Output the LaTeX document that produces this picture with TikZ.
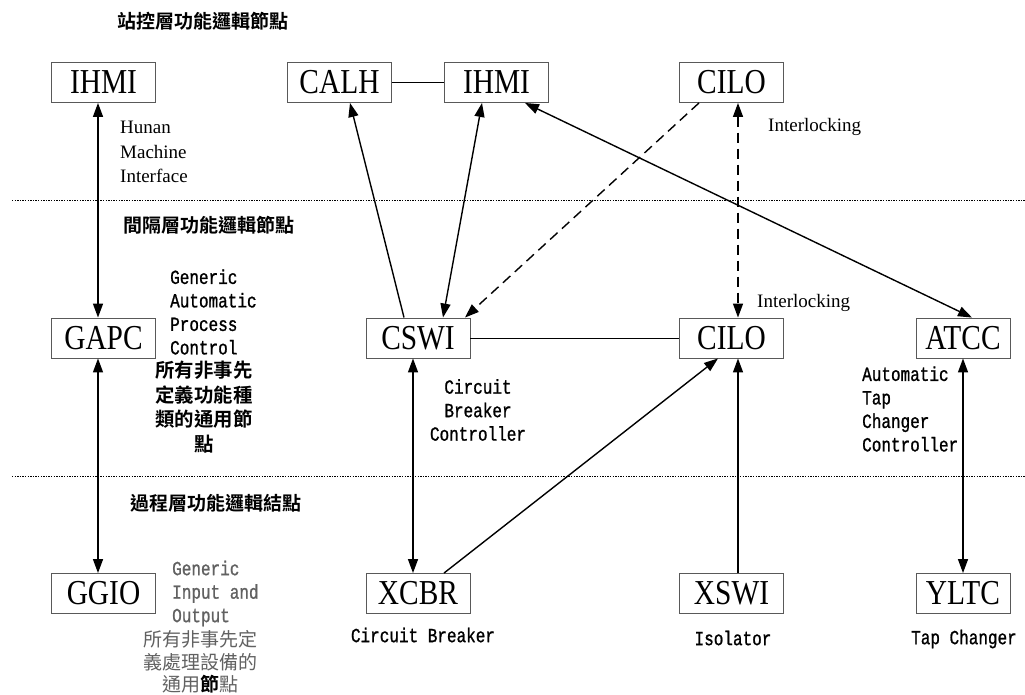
\documentclass[tikz,border=0pt]{standalone}
\usepackage{fontspec}
\usetikzlibrary{arrows.meta}
\setmainfont{Liberation Serif}
\newfontfamily\boxfont[FakeStretch=0.84]{Liberation Serif}
\newfontfamily\monofont[FakeStretch=0.8,FakeBold=1]{Liberation Mono}
\newfontfamily\cjkfont{Noto Sans CJK TC}
\newfontfamily\cjkboldfont{Noto Sans CJK TC Bold}
\definecolor{boxline}{gray}{0.35}
\definecolor{softtext}{gray}{0.38}
\begin{document}
\begin{tikzpicture}[x=1pt,y=-1pt,
  lnode/.style={draw=boxline, line width=0.9pt, fill=white, minimum width=104pt,
    minimum height=40pt, inner sep=0pt, font=\boxfont\fontsize{35}{35}\selectfont},
  narrownode/.style={lnode, minimum width=94pt},
  link/.style={line width=1.4pt},
  plainlink/.style={line width=1pt},
  onehead/.style={arrows={-Triangle[length=14pt,width=10pt]}},
  twohead/.style={arrows={Triangle[length=14pt,width=10pt]-Triangle[length=14pt,width=10pt]}},
  dashlink/.style={dash pattern=on 10pt off 6pt},
  layer/.style={line width=0.8pt, dash pattern=on 1.3pt off 1.3pt},
  title/.style={inner sep=0pt, font=\cjkboldfont\fontsize{19}{19}\selectfont},
  seriflab/.style={inner sep=0pt, font=\fontsize{19}{24.5}\selectfont},
  monolab/.style={inner sep=0pt, font=\monofont\fontsize{20}{23.5}\selectfont},
  cjklab/.style={inner sep=0pt, font=\cjkboldfont\fontsize{19.4}{24.5}\selectfont},
  cjksoft/.style={inner sep=0pt, text=softtext, font=\cjkfont\fontsize{19}{22.5}\selectfont}
]
\useasboundingbox (0,0) rectangle (1025,695);

% layer separators
\coordinate (sepAl) at (12,200);  \coordinate (sepAr) at (1025,200);
\coordinate (sepBl) at (12,476);  \coordinate (sepBr) at (1025,476);
\draw[layer] (sepAl) -- (sepAr);
\draw[layer] (sepBl) -- (sepBr);

% layer titles
\node[title] (tStation) at (202.5,21)  {站控層功能邏輯節點};
\node[title] (tBay)     at (208.5,225) {間隔層功能邏輯節點};
\node[title] (tProcess) at (215.5,503) {過程層功能邏輯結點};

% station level
\node[lnode] (ihmiS) at (103.5,82.5) {IHMI};
\node[lnode] (calh)  at (339.5,82.5) {CALH};
\node[lnode] (ihmiB) at (496.5,82.5) {IHMI};
\node[lnode] (ciloS) at (731.5,82.5) {CILO};

% bay level
\node[lnode] (gapc)  at (103.5,338) {GAPC};
\node[lnode] (cswi)  at (418,338)   {CSWI};
\node[lnode] (ciloB) at (731.5,338) {CILO};
\node[narrownode] (atcc) at (963,338) {ATCC};

% process level
\node[lnode] (ggio) at (103.5,593.5) {GGIO};
\node[lnode] (xcbr) at (418,593.5)   {XCBR};
\node[lnode] (xswi) at (731.5,593.5) {XSWI};
\node[narrownode] (yltc) at (963,593.5) {YLTC};

% descriptions
\node[seriflab, anchor=west, align=left] (hmiLab) at (120,152) {Hunan\\Machine\\Interface};
\node[monolab, anchor=west, align=left] (gapcEn) at (170,312) {Generic\\Automatic\\Process\\Control};
\node[cjklab, align=center] (gapcZh) at (204,407) {所有非事先\\定義功能種\\類的通用節\\點};
\node[monolab, text=softtext, anchor=west, align=left] (ggioEn) at (172,593.5) {Generic\\Input and\\Output};
\node[cjksoft, align=center] (ggioZh) at (200,662) {所有非事先定\\義處理設備的\\通用{\cjkboldfont\color{black}節}點};
\node[monolab, align=center] (cswiLab) at (478,410) {Circuit\\Breaker\\Controller};
\node[seriflab, anchor=west] (ilkS) at (768,127) {Interlocking};
\node[seriflab, anchor=west] (ilkB) at (757,303) {Interlocking};
\node[monolab, anchor=west, align=left] (atccLab) at (862,409) {Automatic\\Tap\\Changer\\Controller};
\node[monolab] (xcbrLab) at (423,635) {Circuit Breaker};
\node[monolab] (xswiLab) at (733,638) {Isolator};
\node[monolab] (yltcLab) at (964,639) {Tap Changer};

% connectors
\draw[link, twohead] ([xshift=-5.5pt]ihmiS.south) -- ([xshift=-5.5pt]gapc.north);
\draw[link, twohead] ([xshift=-5.5pt]gapc.south) -- ([xshift=-5.5pt]ggio.north);
\draw[plainlink] (calh.east) -- (ihmiB.west);
\draw[link, onehead] ([xshift=-14pt]cswi.north) -- ([xshift=10.5pt]calh.south);
\draw[link, twohead] ([xshift=-14.5pt]ihmiB.south) -- ([xshift=25pt]cswi.north);
\draw[link, dashlink, onehead] ([xshift=-32.5pt]ciloS.south) -- ([xshift=47pt]cswi.north);
\draw[link, dashlink, twohead] ([xshift=6.5pt]ciloS.south) -- ([xshift=6.5pt]ciloB.north);
\draw[link, twohead] ([xshift=28.5pt]ihmiB.south) -- ([xshift=9pt]atcc.north);
\draw[plainlink] (cswi.east) -- (ciloB.west);
\draw[link, twohead] ([xshift=-5pt]cswi.south) -- ([xshift=-5pt]xcbr.north);
\draw[link, onehead] ([xshift=26pt]xcbr.north) -- ([xshift=-13.5pt]ciloB.south);
\draw[link, onehead] ([xshift=6.5pt]xswi.north) -- ([xshift=6.5pt]ciloB.south);
\draw[link, twohead] (atcc.south) -- (yltc.north);
\end{tikzpicture}
\end{document}
